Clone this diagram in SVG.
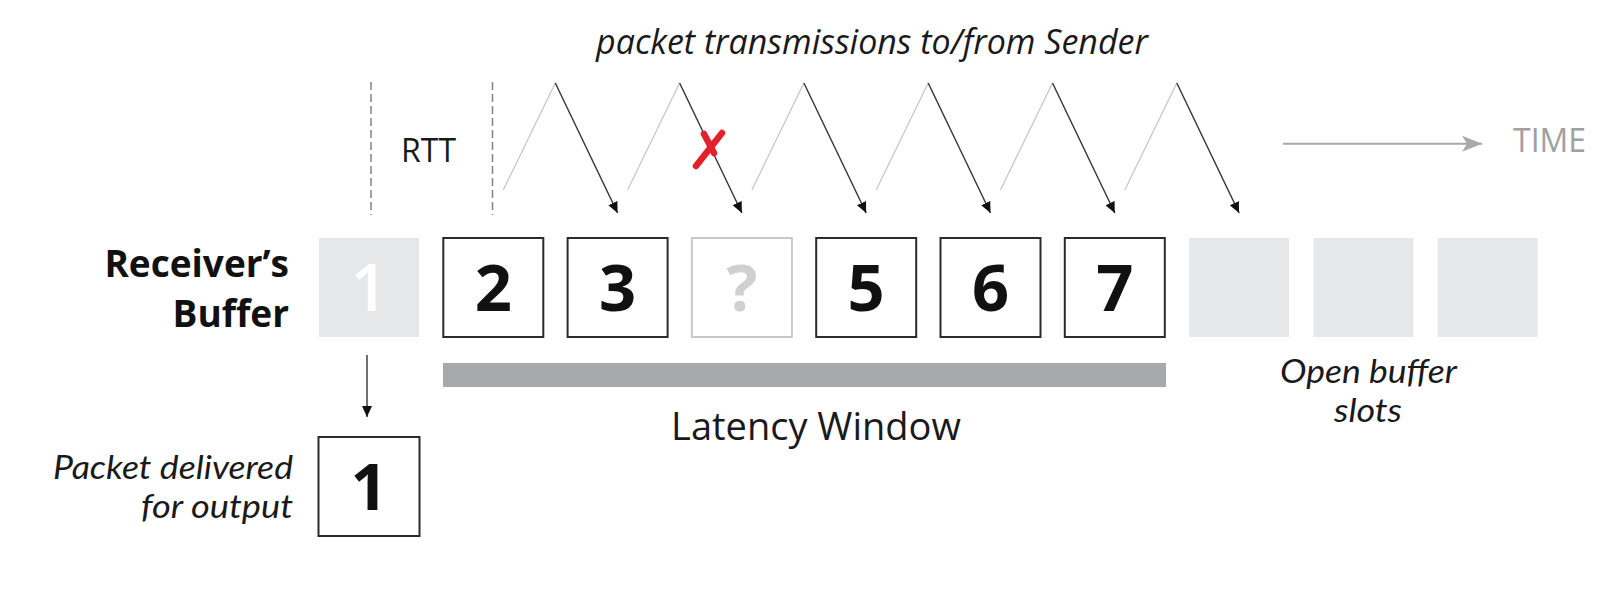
<svg xmlns="http://www.w3.org/2000/svg" width="1618" height="600" viewBox="0 0 1618 600">
<style>
text{font-family:"Open Sans","DejaVu Sans",sans-serif;}
.box{fill:#ffffff;stroke:#2b2b2b;stroke-width:2;}
.ghost{fill:#ffffff;stroke:#c9c9c9;stroke-width:2;}
.slot{fill:#e6e7e8;stroke:none;}
.dig{font-size:65px;font-weight:700;text-anchor:middle;fill:#111;}
.up{fill:none;stroke:#c4c4c4;stroke-width:1.2;}
.down{fill:none;stroke:#333;stroke-width:1.4;marker-end:url(#ah);}
.dash{fill:none;stroke:#8a8a8a;stroke-width:1.6;stroke-dasharray:8 4;}
.it{font-style:italic;fill:#1a1a1a;}
.it2{font-family:Lato,"Open Sans",sans-serif;font-style:italic;fill:#1a1a1a;font-size:32.4px;}
</style>
<defs>
<marker id="ah" markerUnits="userSpaceOnUse" markerWidth="12" markerHeight="10" refX="11" refY="5" orient="auto">
<path d="M0,0 L11,5 L0,10 z" fill="#111"/>
</marker>
<marker id="ahg" markerUnits="userSpaceOnUse" markerWidth="22" markerHeight="16" refX="20" refY="8" orient="auto">
<path d="M0,0 L20,8 L0,16 L5,8 z" fill="#a7a9ac"/>
</marker>
</defs>

<g id="title"><text class="it" x="872" y="54" font-size="34" text-anchor="middle">packet transmissions to/from Sender</text></g>

<g id="rtt">
<line class="dash" x1="371" y1="82" x2="371" y2="215"/>
<line class="dash" x1="492.5" y1="82" x2="492.5" y2="215"/>
<text x="401" y="162" font-size="32" fill="#1a1a1a">RTT</text>
</g>

<g id="time">
<line x1="1283" y1="143.7" x2="1482" y2="143.7" stroke="#a7a9ac" stroke-width="2" marker-end="url(#ahg)"/>
<text x="1513" y="152" font-size="32" fill="#a0a0a0">TIME</text>
</g>

<g id="label-buffer">
<text font-size="37" font-weight="700" text-anchor="end" fill="#111"><tspan x="289" y="277">Receiver’s</tspan><tspan x="289" y="327">Buffer</tspan></text>
</g>

<g id="slot1"><rect class="slot" x="319" y="238" width="100" height="99"/><text x="369" y="311" font-size="66" font-weight="600" text-anchor="middle" fill="#ffffff">1</text></g>
<g id="slot2"><rect class="box" x="443.3" y="238" width="100" height="99"/><text class="dig" x="493.3" y="311">2</text></g>
<g id="slot3"><rect class="box" x="567.6" y="238" width="100" height="99"/><text class="dig" x="617.6" y="311">3</text></g>
<g id="slot4"><rect class="ghost" x="691.9" y="238" width="100" height="99"/><text class="dig" x="741.9" y="311" style="fill:#d0d0d0">?</text></g>
<g id="slot5"><rect class="box" x="816.2" y="238" width="100" height="99"/><text class="dig" x="866.2" y="311">5</text></g>
<g id="slot6"><rect class="box" x="940.5" y="238" width="100" height="99"/><text class="dig" x="990.5" y="311">6</text></g>
<g id="slot7"><rect class="box" x="1064.8" y="238" width="100" height="99"/><text class="dig" x="1114.8" y="311">7</text></g>
<g id="slot8"><rect class="slot" x="1189.1" y="238" width="100" height="99"/></g>
<g id="slot9"><rect class="slot" x="1313.4" y="238" width="100" height="99"/></g>
<g id="slot10"><rect class="slot" x="1437.7" y="238" width="100" height="99"/></g>

<g id="latency-window">
<rect x="443" y="363" width="723" height="24" fill="#a7a9ac"/>
<text x="816" y="440" font-size="38" text-anchor="middle" fill="#1a1a1a">Latency Window</text>
</g>

<g id="open-slots">
<text class="it2" x="1280" y="383" textLength="177" lengthAdjust="spacingAndGlyphs">Open buffer</text>
<text class="it2" x="1334" y="422" textLength="68" lengthAdjust="spacingAndGlyphs">slots</text>
</g>

<g id="output">
<text class="it2" x="53" y="479" textLength="240" lengthAdjust="spacingAndGlyphs">Packet delivered</text>
<text class="it2" x="141" y="518" textLength="152" lengthAdjust="spacingAndGlyphs">for output</text>
<rect class="box" x="318.5" y="437" width="101" height="99"/>
<text class="dig" x="369" y="510">1</text>
</g>

<g id="connectors">
<path class="up" d="M503.3,190 L555.3,83"/>
<path class="down" d="M555.3,83 L617.6,213"/>
<path class="up" d="M627.6,190 L679.6,83"/>
<path class="down" d="M679.6,83 L741.9,213"/>
<path class="up" d="M751.9,190 L803.9,83"/>
<path class="down" d="M803.9,83 L866.2,213"/>
<path class="up" d="M876.2,190 L928.2,83"/>
<path class="down" d="M928.2,83 L990.5,213"/>
<path class="up" d="M1000.5,190 L1052.5,83"/>
<path class="down" d="M1052.5,83 L1114.8,213"/>
<path class="up" d="M1124.8,190 L1176.8,83"/>
<path class="down" d="M1176.8,83 L1239.1,213"/>
<path d="M367,355 L367,417" fill="none" stroke="#333" stroke-width="1.4" marker-end="url(#ah)"/>
</g>

<g id="loss-mark" stroke="#e4202a" stroke-width="6.5" stroke-linecap="round" fill="none">
<path d="M696,166 L722,133"/>
<path d="M704,134 L714,153"/>
</g>
</svg>
